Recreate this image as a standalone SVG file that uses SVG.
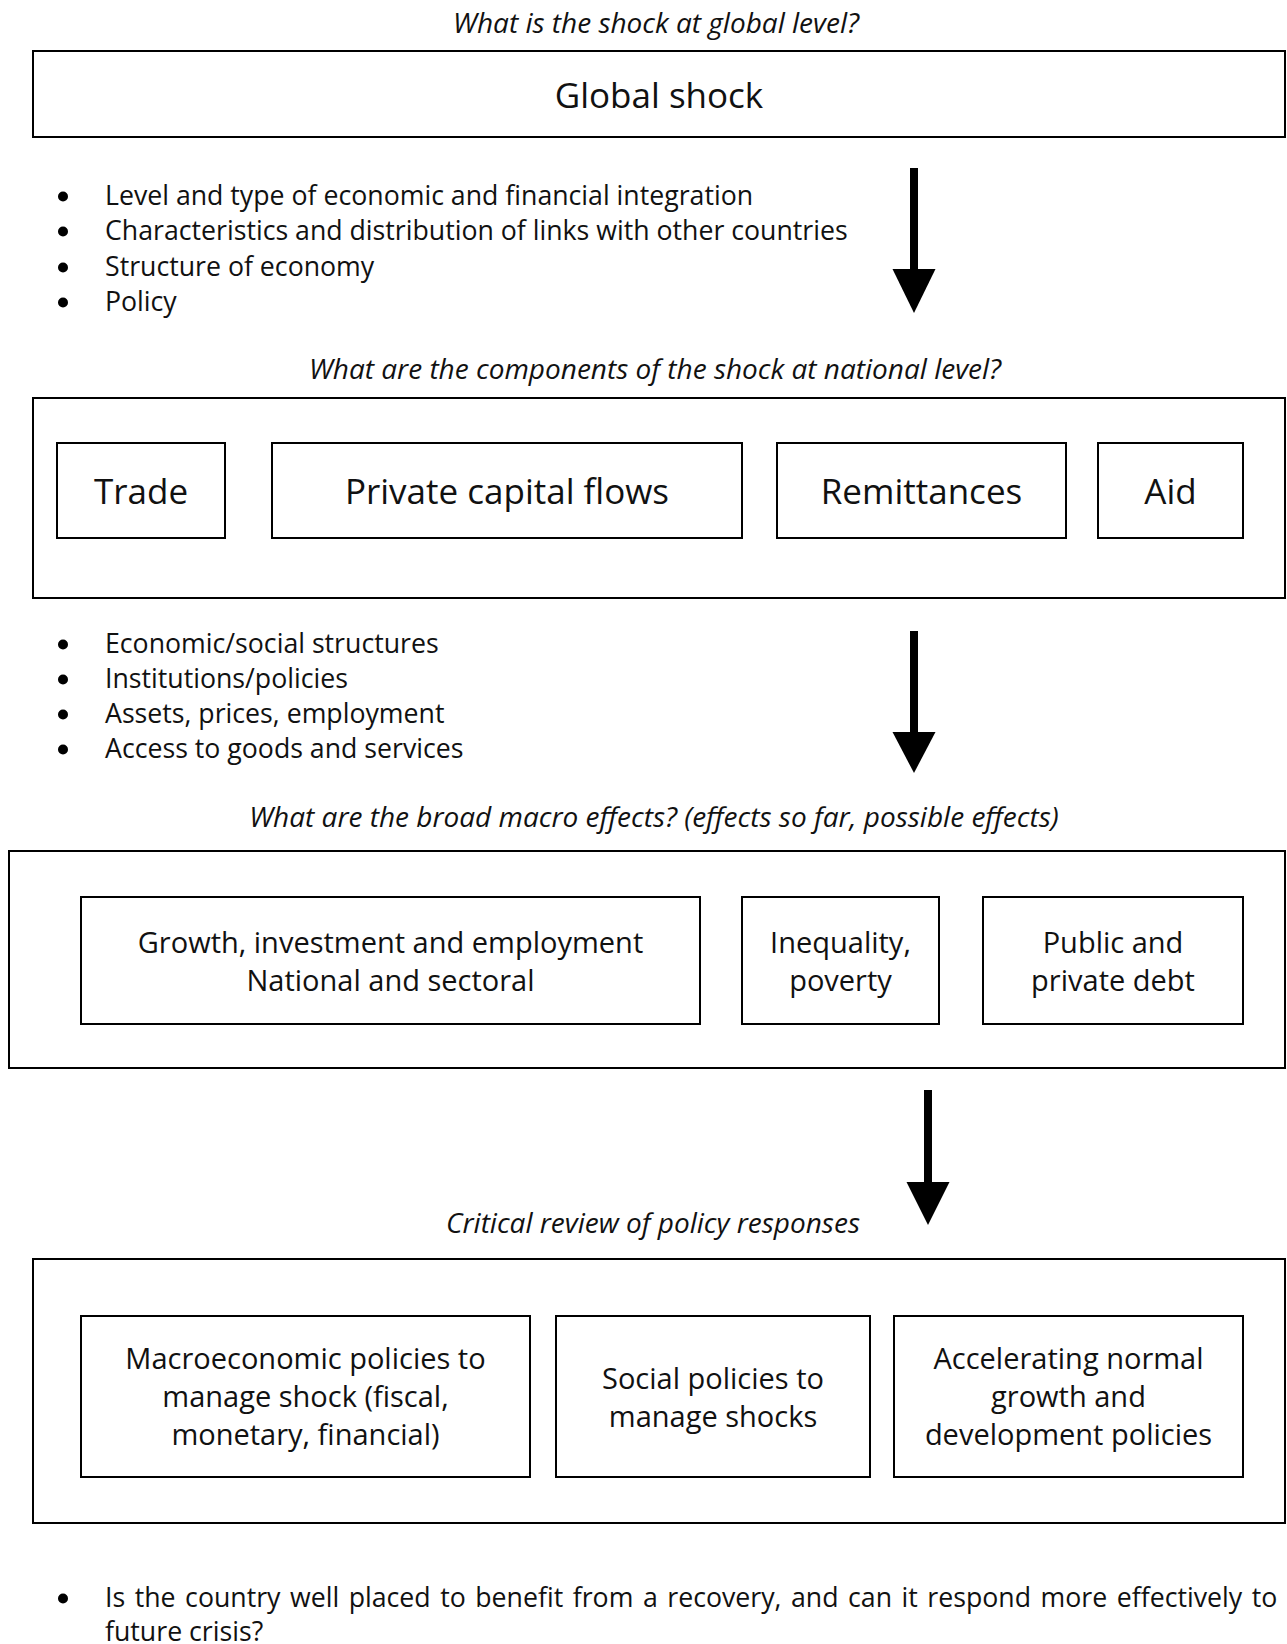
<svg xmlns="http://www.w3.org/2000/svg" width="1287" height="1644" viewBox="0 0 1287 1644">
<style>
.bg{fill:#fff}
.box{fill:#fff;stroke:#000;stroke-width:2}
.t{font-family:"Open Sans","Noto Sans","Liberation Sans",sans-serif;font-weight:400;fill:#111}
.ti{font-family:"Open Sans","Noto Sans","Liberation Sans",sans-serif;font-style:italic;font-weight:400;font-size:28px;fill:#111;text-anchor:middle}
.big{font-size:35px;text-anchor:middle}
.mid{font-size:29px;text-anchor:middle}
.bul{font-size:26.7px}
.dot{fill:#000}
.shaft{stroke:#000;stroke-width:8;fill:none}
.head{fill:#000}
</style>
<rect class="bg" x="0" y="0" width="1287" height="1644"/>

<g id="title-global"><text class="ti" x="656" y="33">What is the shock at global level?</text></g>
<g id="global-shock">
<rect class="box" x="33" y="51" width="1252" height="86"/>
<text class="t big" x="659" y="108">Global shock</text>
</g>

<g id="bullets-1">
<circle class="dot" cx="63" cy="196.5" r="5"/><text class="t bul" x="105" y="205">Level and type of economic and financial integration</text>
<circle class="dot" cx="63" cy="231.5" r="5"/><text class="t bul" x="105" y="240">Characteristics and distribution of links with other countries</text>
<circle class="dot" cx="63" cy="267.5" r="5"/><text class="t bul" x="105" y="276">Structure of economy</text>
<circle class="dot" cx="63" cy="302.5" r="5"/><text class="t bul" x="105" y="311">Policy</text>
</g>

<g id="title-national"><text class="ti" x="655" y="379">What are the components of the shock at national level?</text></g>
<g id="national-components">
<rect class="box" x="33" y="398" width="1252" height="200"/>
<g id="trade"><rect class="box" x="57" y="443" width="168" height="95"/><text class="t big" x="141" y="504">Trade</text></g>
<g id="private-capital-flows"><rect class="box" x="272" y="443" width="470" height="95"/><text class="t big" x="507" y="504">Private capital flows</text></g>
<g id="remittances"><rect class="box" x="777" y="443" width="289" height="95"/><text class="t big" x="921.5" y="504">Remittances</text></g>
<g id="aid"><rect class="box" x="1098" y="443" width="145" height="95"/><text class="t big" x="1170.5" y="504">Aid</text></g>
</g>

<g id="bullets-2">
<circle class="dot" cx="63" cy="644.5" r="5"/><text class="t bul" x="105" y="653">Economic/social structures</text>
<circle class="dot" cx="63" cy="679.5" r="5"/><text class="t bul" x="105" y="688">Institutions/policies</text>
<circle class="dot" cx="63" cy="714.5" r="5"/><text class="t bul" x="105" y="723">Assets, prices, employment</text>
<circle class="dot" cx="63" cy="749.5" r="5"/><text class="t bul" x="105" y="758">Access to goods and services</text>
</g>

<g id="title-macro"><text class="ti" x="654" y="827">What are the broad macro effects? (effects so far, possible effects)</text></g>
<g id="macro-effects">
<rect class="box" x="9" y="851" width="1276" height="217"/>
<g id="growth"><rect class="box" x="81" y="897" width="619" height="127"/><text class="t mid" x="390.5" y="953">Growth, investment and employment</text><text class="t mid" x="390.5" y="991">National and sectoral</text></g>
<g id="inequality"><rect class="box" x="742" y="897" width="197" height="127"/><text class="t mid" x="840.5" y="953">Inequality,</text><text class="t mid" x="840.5" y="991">poverty</text></g>
<g id="debt"><rect class="box" x="983" y="897" width="260" height="127"/><text class="t mid" x="1113" y="953">Public and</text><text class="t mid" x="1113" y="991">private debt</text></g>
</g>

<g id="title-policy"><text class="ti" x="653" y="1233">Critical review of policy responses</text></g>
<g id="policy-responses">
<rect class="box" x="33" y="1259" width="1252" height="264"/>
<g id="macro-policies"><rect class="box" x="81" y="1316" width="449" height="161"/><text class="t mid" x="305.5" y="1369">Macroeconomic policies to</text><text class="t mid" x="305.5" y="1407">manage shock (fiscal,</text><text class="t mid" x="305.5" y="1445">monetary, financial)</text></g>
<g id="social-policies"><rect class="box" x="556" y="1316" width="314" height="161"/><text class="t mid" x="713" y="1389">Social policies to</text><text class="t mid" x="713" y="1427">manage shocks</text></g>
<g id="growth-policies"><rect class="box" x="894" y="1316" width="349" height="161"/><text class="t mid" x="1068.5" y="1369">Accelerating normal</text><text class="t mid" x="1068.5" y="1407">growth and</text><text class="t mid" x="1068.5" y="1445">development policies</text></g>
</g>

<g id="bullet-final">
<circle class="dot" cx="63" cy="1598.5" r="5"/>
<text class="t bul" x="105" y="1607" word-spacing="2.6">Is the country well placed to benefit from a recovery, and can it respond more effectively to</text>
<text class="t bul" x="105" y="1641">future crisis?</text>
</g>

<g id="connectors">
<line class="shaft" x1="914" y1="168" x2="914" y2="272"/>
<polygon class="head" points="892.5,269 935.5,269 914,313"/>
<line class="shaft" x1="914" y1="631" x2="914" y2="735"/>
<polygon class="head" points="892.5,732 935.5,732 914,773"/>
<line class="shaft" x1="928" y1="1090" x2="928" y2="1185"/>
<polygon class="head" points="906.5,1182 949.5,1182 928,1225"/>
</g>
</svg>
